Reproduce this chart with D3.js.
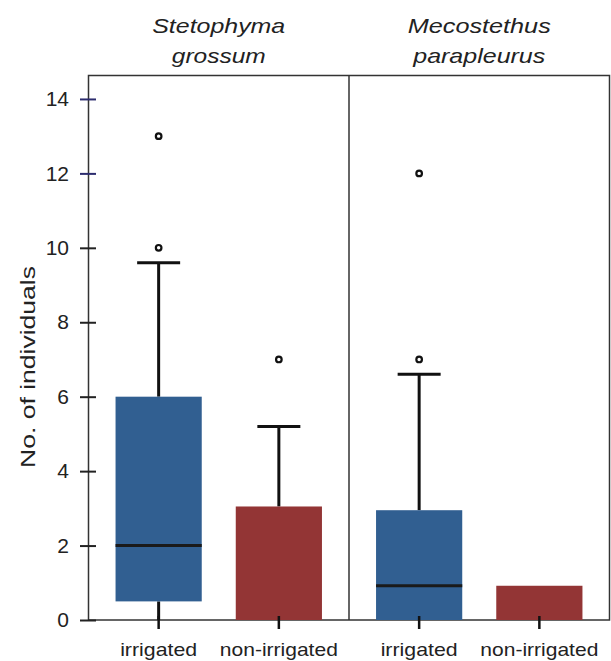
<!DOCTYPE html>
<html><head><meta charset="utf-8">
<script src="https://cdn.jsdelivr.net/npm/d3@7"></script>
<style>body{margin:0;background:#fff}svg{display:block}text{font-family:"Liberation Sans",Arial,sans-serif;fill:#222}</style>
</head><body><svg id="c" width="611" height="661"></svg>
<script>
const species = ["Stetophyma|grossum", "Mecostethus|parapleurus"];
const treatments = ["irrigated", "non-irrigated"];
// per species, per treatment: [lowerWhisker, q1, median, q3, upperWhisker]
const stetophymaStats = [[0, 0.5, 2, 6, 9.6], [0, 0, 0, 3.05, 5.2]];
const mecostethusStats = [[0, 0, 0.92, 2.95, 6.6], [0, 0, 0, 0.92, 0.92]];
const stetophymaOutliers = [[10, 13], [7]];
const mecostethusOutliers = [[7, 12], []];
const yTicks = [0, 2, 4, 6, 8, 10, 12, 14];
const colors = ["#315f91", "#933535"];

const stats = [stetophymaStats, mecostethusStats];
const outliers = [stetophymaOutliers, mecostethusOutliers];

// text length helpers (stretch to reference widths)
const titleLen = {"Stetophyma": 133, "grossum": 94, "Mecostethus": 143, "parapleurus": 132};
const xLabLen = {"irrigated": 77, "non-irrigated": 118};

const svg = d3.select("#c");
const L = 88.5, R = 609.5, T = 75.5, B = 620;
const y = d3.scaleLinear().domain([0, 14.63]).range([B, T]);
const px = d3.scaleBand().domain(species).range([L, R]);
const tx = d3.scaleBand().domain(treatments).range([0, px.bandwidth()]).paddingInner(0.283).paddingOuter(0.225);

// frame
svg.append("rect").attr("x", L).attr("y", T).attr("width", R - L).attr("height", B - T)
  .attr("fill", "none").attr("stroke", "#333").attr("stroke-width", 1.5);
svg.append("line").attr("x1", px(species[1])).attr("x2", px(species[1])).attr("y1", T).attr("y2", B)
  .attr("stroke", "#333").attr("stroke-width", 1.5);

species.forEach((sp, si) => {
  const g = svg.append("g").attr("transform", `translate(${px(sp)},0)`);
  const cx0 = px.bandwidth() / 2;
  const parts = sp.split("|");
  parts.forEach((p, i) => g.append("text").attr("x", cx0).attr("y", 33 + i * 30)
    .attr("text-anchor", "middle").attr("font-size", 21).attr("font-style", "italic")
    .attr("textLength", titleLen[p]).attr("lengthAdjust", "spacingAndGlyphs").text(p));
  treatments.forEach((t, ti) => {
    const s = stats[si][ti];
    const x0 = tx(t), w = tx.bandwidth(), cx = x0 + w / 2;
    if (s[4] > s[3]) {
      g.append("line").attr("x1", cx).attr("x2", cx).attr("y1", y(s[3])).attr("y2", y(s[4]))
        .attr("stroke", "#111").attr("stroke-width", 3);
      g.append("line").attr("x1", cx - 21.5).attr("x2", cx + 21.5).attr("y1", y(s[4])).attr("y2", y(s[4]))
        .attr("stroke", "#111").attr("stroke-width", 3);
    }
    if (s[1] > s[0]) {
      g.append("line").attr("x1", cx).attr("x2", cx).attr("y1", y(s[1])).attr("y2", y(s[0]))
        .attr("stroke", "#111").attr("stroke-width", 3);
    }
    g.append("rect").attr("x", x0).attr("width", w).attr("y", y(s[3])).attr("height", y(s[1]) - y(s[3]))
      .attr("fill", colors[ti]);
    if (s[2] > s[1]) {
      g.append("line").attr("x1", x0).attr("x2", x0 + w).attr("y1", y(s[2])).attr("y2", y(s[2]))
        .attr("stroke", "#1a1a1a").attr("stroke-width", 3);
    }
    outliers[si][ti].forEach(o => g.append("circle").attr("cx", cx).attr("cy", y(o)).attr("r", 2.8)
      .attr("fill", "#fff").attr("stroke", "#111").attr("stroke-width", 2.2));
    g.append("line").attr("x1", cx).attr("x2", cx).attr("y1", B - 4).attr("y2", B + 9)
      .attr("stroke", "#111").attr("stroke-width", 2.5);
    g.append("text").attr("x", cx).attr("y", 656).attr("text-anchor", "middle").attr("font-size", 19)
      .attr("textLength", xLabLen[t]).attr("lengthAdjust", "spacingAndGlyphs").text(t);
  });
});

// y axis
const ya = svg.append("g").attr("transform", `translate(${L},0)`)
  .call(d3.axisLeft(y).tickValues(yTicks).tickSize(8.5).tickPadding(11));
ya.select(".domain").remove();
ya.selectAll(".tick line").attr("x1", -8.5).attr("x2", 7.5).attr("stroke-width", 2)
  .attr("stroke", d => d >= 12 ? "#2c2c6e" : "#222");
ya.selectAll(".tick text").attr("font-size", 21).attr("fill", "#333")
  .attr("font-family", "Liberation Sans, Arial, sans-serif");

svg.append("text").attr("transform", "translate(35,367) rotate(-90)").attr("text-anchor", "middle")
  .attr("font-size", 20).attr("textLength", 202).attr("lengthAdjust", "spacingAndGlyphs")
  .text("No. of individuals");
</script></body></html>
